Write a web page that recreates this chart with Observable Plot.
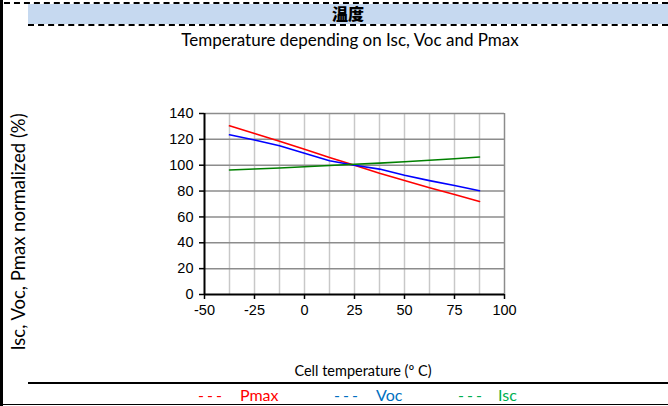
<!DOCTYPE html>
<html><head><meta charset="utf-8">
<script src="https://cdn.jsdelivr.net/npm/d3@7"></script>
<script src="https://cdn.jsdelivr.net/npm/@observablehq/plot@0.6"></script>
<style>
html,body{margin:0;padding:0;background:#fff;}
#page{position:relative;width:668px;height:406px;overflow:hidden;font-family:Lato,"Open Sans",sans-serif;}
#lborder{position:absolute;left:0;top:0;width:3px;height:406px;background:#000;}
#topdash{position:absolute;left:4px;top:2px;width:664px;border-top:2px dashed #000;}
#band{position:absolute;left:28px;top:4px;width:640px;height:20px;background:#c6d9f0;}
#banddash{position:absolute;left:28px;top:24px;width:640px;border-top:2px dashed #000;}
#head{position:absolute;left:28px;top:3px;width:640px;height:20px;line-height:20px;text-align:center;font-family:"Noto Sans CJK SC";font-weight:900;font-size:16px;}
#title{position:absolute;left:0;top:29px;width:700px;text-align:center;font-size:17px;}
#ytitle{position:absolute;left:18px;top:232px;transform:translate(-50%,-50%) rotate(-90deg);white-space:nowrap;font-size:18.5px;font-weight:400;color:#000;}
#xtitle{position:absolute;left:0;top:362px;width:726px;text-align:center;font-size:14.5px;}
#botline{position:absolute;left:28px;top:382px;width:640px;height:2px;background:#000;}
#bottom{position:absolute;left:0;top:404px;width:668px;height:1px;background:#000;}
.lg{position:absolute;top:385px;font-size:16px;white-space:nowrap;}
.dash{position:absolute;top:385px;font-size:16px;letter-spacing:3px;}
#chart{position:absolute;left:0;top:100px;}
</style></head>
<body><div id="page">
<div id="lborder"></div><div id="topdash"></div><div id="band"></div><div id="banddash"></div>
<div id="head">温度</div>
<div id="title">Temperature depending on Isc, Voc and Pmax</div>
<div id="ytitle">Isc, Voc, Pmax normalized (%)</div>
<div id="chart"></div>
<div id="xtitle">Cell temperature (º C)</div>
<div id="botline"></div><div id="bottom"></div>
<div class="dash" style="left:198px;color:#ff0000">---</div>
<div class="lg" style="left:240px;color:#ff0000">Pmax</div>
<div class="dash" style="left:334px;color:#0070c0">---</div>
<div class="lg" style="left:376px;color:#0070c0">Voc</div>
<div class="dash" style="left:458px;color:#00b050">---</div>
<div class="lg" style="left:498px;color:#00b050">Isc</div>
</div>
<script>
const temps = [-37.5, -25, -12.5, 0, 12.5, 25, 37.5, 50, 62.5, 75, 87.5];
const pmax  = [130.5, 124.6, 118.5, 112.3, 106, 100, 93.8, 88.1, 82.5, 77.3, 72];
const voc   = [123.5, 119.5, 115, 109.2, 103.5, 100, 97, 92.2, 88.1, 84.3, 80.2];
const isc   = [96.3, 97.1, 97.9, 98.8, 99.8, 100.7, 101.6, 102.7, 103.8, 105, 106.4];
const xTicks = [-50, -25, 0, 25, 50, 75, 100];
const xGrid = [-37.5, -25, -12.5, 0, 12.5, 25, 37.5, 50, 62.5, 75, 87.5];
const yTicks = [0, 20, 40, 60, 80, 100, 120, 140];
const series = [
  {name: "Pmax", values: pmax, color: "#ff0000"},
  {name: "Voc", values: voc, color: "#0000ff"},
  {name: "Isc", values: isc, color: "#008000"}
];
const rows = series.flatMap(s => temps.map((t, i) => ({t, v: s.values[i], name: s.name})));

const chart = Plot.plot({
  width: 668, height: 230,
  marginLeft: 204, marginRight: 164, marginTop: 13, marginBottom: 36,
  style: {fontFamily: "'Liberation Sans', Arial, sans-serif", fontSize: "14px", color: "#000", background: "transparent"},
  x: {domain: [-50, 100]},
  y: {domain: [0, 140]},
  color: {domain: series.map(s => s.name), range: series.map(s => s.color)},
  marks: [
    Plot.ruleX(xGrid, {stroke: "#c8c8c8", strokeWidth: 1.5}),
    Plot.ruleX([100], {stroke: "#8c8c8c", strokeWidth: 1.5}),
    Plot.ruleY(yTicks.slice(1), {stroke: "#8c8c8c", strokeWidth: 1.5}),
    Plot.line(rows, {x: "t", y: "v", z: "name", stroke: "name", strokeWidth: 1.6}),
    Plot.axisX(xTicks, {tickSize: 5, tickPadding: 5, fontSize: 14.5, label: null, tickFormat: d => String(d), stroke: "#000", strokeWidth: 1.5}),
    Plot.axisY(yTicks, {tickSize: 5, tickPadding: 6, fontSize: 14.5, label: null, tickFormat: d => String(d), stroke: "#000", strokeWidth: 1.5}),
    Plot.ruleX([-50], {stroke: "#000", strokeWidth: 2}),
    Plot.ruleY([0], {stroke: "#000", strokeWidth: 2})
  ]
});
document.getElementById("chart").appendChild(chart);
</script>
</body></html>
